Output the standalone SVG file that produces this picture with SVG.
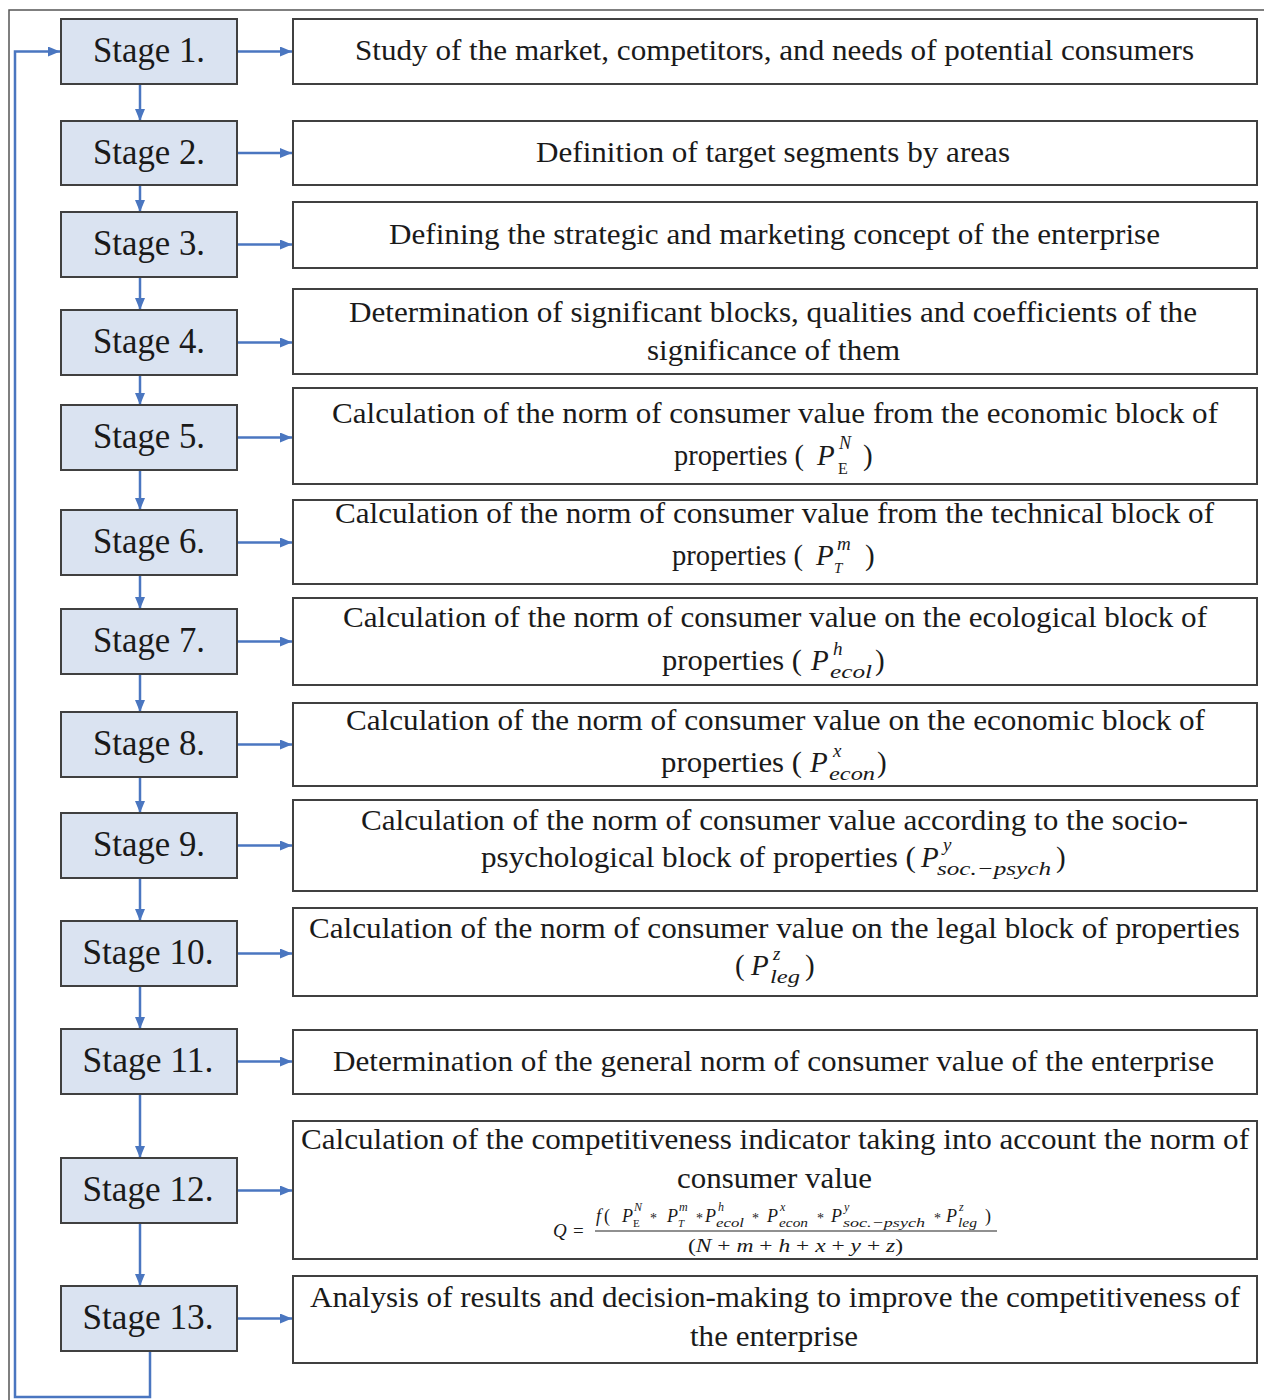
<svg xmlns="http://www.w3.org/2000/svg" width="1264" height="1400" viewBox="0 0 1264 1400" font-family="'Liberation Serif', 'DejaVu Serif', serif">
<defs>
<style>
.stage{fill:#dae3f1;stroke:#404040;stroke-width:2}
.box{fill:#ffffff;stroke:#404040;stroke-width:2}
.st{font-size:36px;fill:#1a1a1a;text-anchor:middle}
.tx{font-size:29px;fill:#1a1a1a}
.mi{font-style:italic;fill:#1a1a1a}
.mu{fill:#1a1a1a}
.con{fill:none;stroke:#4a76c0;stroke-width:2.5}
</style>
<marker id="ah" viewBox="0 0 12 10" refX="12" refY="5" markerWidth="12" markerHeight="10" markerUnits="userSpaceOnUse" orient="auto">
<path d="M0,0 L12,5 L0,10 z" fill="#4a76c0"/>
</marker>
</defs>
<rect x="0" y="0" width="1264" height="1400" fill="#ffffff"/>
<path d="M9,1400 V10 H1264" fill="none" stroke="#555555" stroke-width="1.5"/>

<g id="connectors">
<path class="con" d="M150,1351 V1397 H15 V51.5 H60" marker-end="url(#ah)"/>
<line class="con" x1="140" y1="84" x2="140" y2="121" marker-end="url(#ah)"/>
<line class="con" x1="140" y1="185" x2="140" y2="212" marker-end="url(#ah)"/>
<line class="con" x1="140" y1="277" x2="140" y2="310" marker-end="url(#ah)"/>
<line class="con" x1="140" y1="375" x2="140" y2="405" marker-end="url(#ah)"/>
<line class="con" x1="140" y1="470" x2="140" y2="510" marker-end="url(#ah)"/>
<line class="con" x1="140" y1="575" x2="140" y2="609" marker-end="url(#ah)"/>
<line class="con" x1="140" y1="674" x2="140" y2="712" marker-end="url(#ah)"/>
<line class="con" x1="140" y1="777" x2="140" y2="813" marker-end="url(#ah)"/>
<line class="con" x1="140" y1="878" x2="140" y2="921" marker-end="url(#ah)"/>
<line class="con" x1="140" y1="986" x2="140" y2="1029" marker-end="url(#ah)"/>
<line class="con" x1="140" y1="1094" x2="140" y2="1158" marker-end="url(#ah)"/>
<line class="con" x1="140" y1="1223" x2="140" y2="1286" marker-end="url(#ah)"/>
<line class="con" x1="237" y1="51.5" x2="292" y2="51.5" marker-end="url(#ah)"/>
<line class="con" x1="237" y1="153" x2="292" y2="153" marker-end="url(#ah)"/>
<line class="con" x1="237" y1="244.5" x2="292" y2="244.5" marker-end="url(#ah)"/>
<line class="con" x1="237" y1="342.5" x2="292" y2="342.5" marker-end="url(#ah)"/>
<line class="con" x1="237" y1="437.5" x2="292" y2="437.5" marker-end="url(#ah)"/>
<line class="con" x1="237" y1="542.5" x2="292" y2="542.5" marker-end="url(#ah)"/>
<line class="con" x1="237" y1="641.5" x2="292" y2="641.5" marker-end="url(#ah)"/>
<line class="con" x1="237" y1="744.5" x2="292" y2="744.5" marker-end="url(#ah)"/>
<line class="con" x1="237" y1="845.5" x2="292" y2="845.5" marker-end="url(#ah)"/>
<line class="con" x1="237" y1="953.5" x2="292" y2="953.5" marker-end="url(#ah)"/>
<line class="con" x1="237" y1="1061.5" x2="292" y2="1061.5" marker-end="url(#ah)"/>
<line class="con" x1="237" y1="1190.5" x2="292" y2="1190.5" marker-end="url(#ah)"/>
<line class="con" x1="237" y1="1318.5" x2="292" y2="1318.5" marker-end="url(#ah)"/>
</g>

<g id="stage1"><rect class="stage" x="61" y="19" width="176" height="65"/><text class="st" x="149" y="62" textLength="112" lengthAdjust="spacingAndGlyphs">Stage 1.</text></g>
<g id="stage2"><rect class="stage" x="61" y="121" width="176" height="64"/><text class="st" x="149" y="164" textLength="112" lengthAdjust="spacingAndGlyphs">Stage 2.</text></g>
<g id="stage3"><rect class="stage" x="61" y="212" width="176" height="65"/><text class="st" x="149" y="255" textLength="112" lengthAdjust="spacingAndGlyphs">Stage 3.</text></g>
<g id="stage4"><rect class="stage" x="61" y="310" width="176" height="65"/><text class="st" x="149" y="353" textLength="112" lengthAdjust="spacingAndGlyphs">Stage 4.</text></g>
<g id="stage5"><rect class="stage" x="61" y="405" width="176" height="65"/><text class="st" x="149" y="448" textLength="112" lengthAdjust="spacingAndGlyphs">Stage 5.</text></g>
<g id="stage6"><rect class="stage" x="61" y="510" width="176" height="65"/><text class="st" x="149" y="553" textLength="112" lengthAdjust="spacingAndGlyphs">Stage 6.</text></g>
<g id="stage7"><rect class="stage" x="61" y="609" width="176" height="65"/><text class="st" x="149" y="652" textLength="112" lengthAdjust="spacingAndGlyphs">Stage 7.</text></g>
<g id="stage8"><rect class="stage" x="61" y="712" width="176" height="65"/><text class="st" x="149" y="755" textLength="112" lengthAdjust="spacingAndGlyphs">Stage 8.</text></g>
<g id="stage9"><rect class="stage" x="61" y="813" width="176" height="65"/><text class="st" x="149" y="856" textLength="112" lengthAdjust="spacingAndGlyphs">Stage 9.</text></g>
<g id="stage10"><rect class="stage" x="61" y="921" width="176" height="65"/><text class="st" x="148" y="964" textLength="131" lengthAdjust="spacingAndGlyphs">Stage 10.</text></g>
<g id="stage11"><rect class="stage" x="61" y="1029" width="176" height="65"/><text class="st" x="148" y="1072" textLength="131" lengthAdjust="spacingAndGlyphs">Stage 11.</text></g>
<g id="stage12"><rect class="stage" x="61" y="1158" width="176" height="65"/><text class="st" x="148" y="1201" textLength="131" lengthAdjust="spacingAndGlyphs">Stage 12.</text></g>
<g id="stage13"><rect class="stage" x="61" y="1286" width="176" height="65"/><text class="st" x="148" y="1329" textLength="131" lengthAdjust="spacingAndGlyphs">Stage 13.</text></g>

<g id="box1"><rect class="box" x="293" y="19" width="964" height="65"/><text class="tx" x="355" y="60" textLength="839" lengthAdjust="spacingAndGlyphs">Study of the market, competitors, and needs of potential consumers</text></g>
<g id="box2"><rect class="box" x="293" y="121" width="964" height="64"/><text class="tx" x="536" y="162" textLength="474" lengthAdjust="spacingAndGlyphs">Definition of target segments by areas</text></g>
<g id="box3"><rect class="box" x="293" y="202" width="964" height="66"/><text class="tx" x="389" y="244" textLength="771" lengthAdjust="spacingAndGlyphs">Defining the strategic and marketing concept of the enterprise</text></g>
<g id="box4"><rect class="box" x="293" y="289" width="964" height="85"/>
<text class="tx" x="349" y="322" textLength="848" lengthAdjust="spacingAndGlyphs">Determination of significant blocks, qualities and coefficients of the</text>
<text class="tx" x="647" y="360" textLength="253" lengthAdjust="spacingAndGlyphs">significance of them</text></g>
<g id="box5"><rect class="box" x="293" y="388" width="964" height="96"/>
<text class="tx" x="332" y="423" textLength="886" lengthAdjust="spacingAndGlyphs">Calculation of the norm of consumer value from the economic block of</text>
<text class="tx" x="674" y="465" textLength="130" lengthAdjust="spacingAndGlyphs">properties (</text>
<text class="mi" x="817" y="465" font-size="29">P</text>
<text class="mi" x="839" y="449" font-size="18">N</text>
<text class="mu" x="838" y="474" font-size="16">E</text>
<text class="mu" x="863" y="465" font-size="29">)</text></g>
<g id="box6"><rect class="box" x="293" y="500" width="964" height="84"/>
<text class="tx" x="335" y="523" textLength="879" lengthAdjust="spacingAndGlyphs">Calculation of the norm of consumer value from the technical block of</text>
<text class="tx" x="672" y="565" textLength="131" lengthAdjust="spacingAndGlyphs">properties (</text>
<text class="mi" x="816" y="565" font-size="29">P</text>
<text class="mi" x="837" y="550" font-size="19">m</text>
<text class="mi" x="834" y="573" font-size="15">T</text>
<text class="mu" x="865" y="565" font-size="29">)</text></g>
<g id="box7"><rect class="box" x="293" y="598" width="964" height="87"/>
<text class="tx" x="343" y="627" textLength="864" lengthAdjust="spacingAndGlyphs">Calculation of the norm of consumer value on the ecological block of</text>
<text class="tx" x="662" y="670" textLength="140" lengthAdjust="spacingAndGlyphs">properties (</text>
<text class="mi" x="811" y="670" font-size="29">P</text>
<text class="mi" x="833" y="655" font-size="19">h</text>
<text class="mi" x="830" y="678" font-size="19" textLength="42" lengthAdjust="spacingAndGlyphs">ecol</text>
<text class="mu" x="875" y="670" font-size="29">)</text></g>
<g id="box8"><rect class="box" x="293" y="703" width="964" height="83"/>
<text class="tx" x="346" y="730" textLength="859" lengthAdjust="spacingAndGlyphs">Calculation of the norm of consumer value on the economic block of</text>
<text class="tx" x="661" y="772" textLength="141" lengthAdjust="spacingAndGlyphs">properties (</text>
<text class="mi" x="810" y="772" font-size="29">P</text>
<text class="mi" x="833" y="757" font-size="19">x</text>
<text class="mi" x="829" y="780" font-size="19" textLength="46" lengthAdjust="spacingAndGlyphs">econ</text>
<text class="mu" x="877" y="772" font-size="29">)</text></g>
<g id="box9"><rect class="box" x="293" y="800" width="964" height="91"/>
<text class="tx" x="361" y="830" textLength="827" lengthAdjust="spacingAndGlyphs">Calculation of the norm of consumer value according to the socio-</text>
<text class="tx" x="481" y="867" textLength="435" lengthAdjust="spacingAndGlyphs">psychological block of properties (</text>
<text class="mi" x="921" y="867" font-size="29">P</text>
<text class="mi" x="943" y="851" font-size="19">y</text>
<text class="mi" x="937" y="875" font-size="19" textLength="114" lengthAdjust="spacingAndGlyphs">soc.−psych</text>
<text class="mu" x="1056" y="867" font-size="29">)</text></g>
<g id="box10"><rect class="box" x="293" y="908" width="964" height="88"/>
<text class="tx" x="309" y="938" textLength="931" lengthAdjust="spacingAndGlyphs">Calculation of the norm of consumer value on the legal block of properties</text>
<text class="mu" x="735" y="975" font-size="29">(</text>
<text class="mi" x="751" y="975" font-size="29">P</text>
<text class="mi" x="773" y="960" font-size="19">z</text>
<text class="mi" x="770" y="983" font-size="19" textLength="30" lengthAdjust="spacingAndGlyphs">leg</text>
<text class="mu" x="805" y="975" font-size="29">)</text></g>
<g id="box11"><rect class="box" x="293" y="1030" width="964" height="64"/><text class="tx" x="333" y="1071" textLength="881" lengthAdjust="spacingAndGlyphs">Determination of the general norm of consumer value of the enterprise</text></g>
<g id="box12"><rect class="box" x="293" y="1121" width="964" height="138"/>
<text class="tx" x="301" y="1149" textLength="948" lengthAdjust="spacingAndGlyphs">Calculation of the competitiveness indicator taking into account the norm of</text>
<text class="tx" x="677" y="1188" textLength="195" lengthAdjust="spacingAndGlyphs">consumer value</text>
<text class="mi" x="553" y="1237" font-size="19">Q</text>
<text class="mu" x="573" y="1237" font-size="19">=</text>
<line x1="595" y1="1231" x2="997" y2="1231" stroke="#222222" stroke-width="1.2"/>
<text class="mi" x="596" y="1222" font-size="18">f</text>
<text class="mu" x="604" y="1222" font-size="18">(</text>
<text class="mi" x="622" y="1222" font-size="18">P</text>
<text class="mi" x="634" y="1211" font-size="12">N</text>
<text class="mu" x="633" y="1227" font-size="11">E</text>
<text class="mu" x="650" y="1223" font-size="14">*</text>
<text class="mi" x="667" y="1222" font-size="18">P</text>
<text class="mi" x="679" y="1211" font-size="12">m</text>
<text class="mi" x="678" y="1227" font-size="11">T</text>
<text class="mu" x="696" y="1223" font-size="14">*</text>
<text class="mi" x="705" y="1222" font-size="18">P</text>
<text class="mi" x="718" y="1211" font-size="12">h</text>
<text class="mi" x="716" y="1227" font-size="13" textLength="28" lengthAdjust="spacingAndGlyphs">ecol</text>
<text class="mu" x="752" y="1223" font-size="14">*</text>
<text class="mi" x="767" y="1222" font-size="18">P</text>
<text class="mi" x="780" y="1211" font-size="12">x</text>
<text class="mi" x="779" y="1227" font-size="13" textLength="29" lengthAdjust="spacingAndGlyphs">econ</text>
<text class="mu" x="817" y="1223" font-size="14">*</text>
<text class="mi" x="831" y="1222" font-size="18">P</text>
<text class="mi" x="844" y="1211" font-size="12">y</text>
<text class="mi" x="843" y="1227" font-size="13" textLength="82" lengthAdjust="spacingAndGlyphs">soc.−psych</text>
<text class="mu" x="934" y="1223" font-size="14">*</text>
<text class="mi" x="946" y="1222" font-size="18">P</text>
<text class="mi" x="959" y="1211" font-size="12">z</text>
<text class="mi" x="958" y="1227" font-size="13" textLength="19" lengthAdjust="spacingAndGlyphs">leg</text>
<text class="mu" x="985" y="1222" font-size="18">)</text>
<text class="mu" x="688" y="1252" font-size="18" textLength="215" lengthAdjust="spacingAndGlyphs">(<tspan font-style="italic">N</tspan> + <tspan font-style="italic">m</tspan> + <tspan font-style="italic">h</tspan> + <tspan font-style="italic">x</tspan> + <tspan font-style="italic">y</tspan> + <tspan font-style="italic">z</tspan>)</text></g>
<g id="box13"><rect class="box" x="293" y="1276" width="964" height="87"/>
<text class="tx" x="310" y="1307" textLength="930" lengthAdjust="spacingAndGlyphs">Analysis of results and decision-making to improve the competitiveness of</text>
<text class="tx" x="690" y="1346" textLength="168" lengthAdjust="spacingAndGlyphs">the enterprise</text></g>
</svg>
